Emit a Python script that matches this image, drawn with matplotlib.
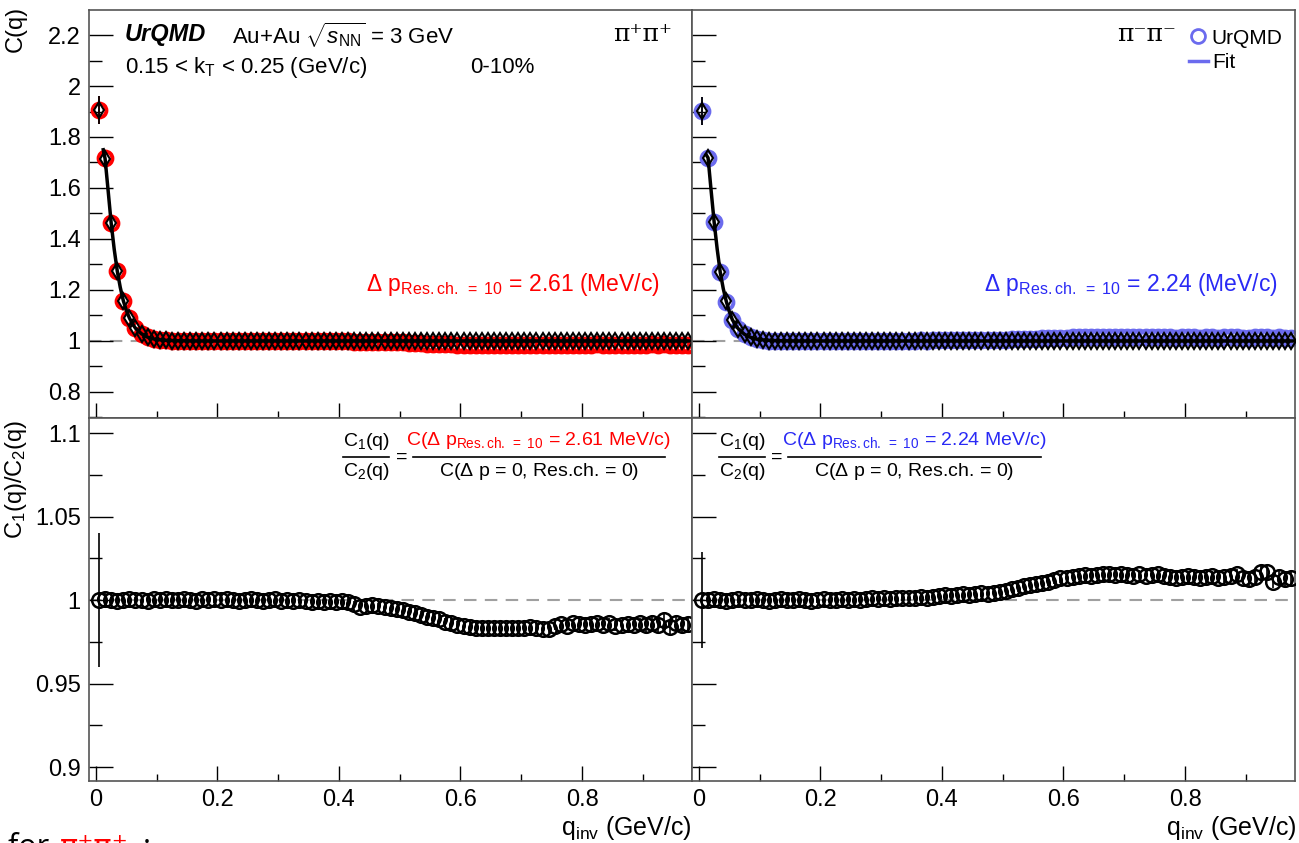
import numpy as np
import matplotlib
matplotlib.use('Agg')
import matplotlib.pyplot as plt
from matplotlib.lines import Line2D
from matplotlib.ticker import MultipleLocator

plt.rcParams['font.family'] = ['Liberation Sans', 'DejaVu Sans']
plt.rcParams['mathtext.fontset'] = 'custom'
plt.rcParams['mathtext.rm'] = 'Liberation Sans'
plt.rcParams['mathtext.it'] = 'Liberation Sans:italic'
plt.rcParams['mathtext.bf'] = 'Liberation Sans:bold'

# q_inv bin centres (GeV/c)
q = np.round(np.arange(0.005, 0.98, 0.01), 3)

# C(q) without momentum resolution (black diamonds)
c2_pp = [1.905, 1.715, 1.463, 1.275, 1.158, 1.09, 1.05, 1.028, 1.015, 1.008, 1.004, 1.002] + [1.001]*4 + [1.0]*82
c2_mm = [1.902, 1.718, 1.466, 1.270, 1.155, 1.083, 1.047, 1.026, 1.014, 1.007, 1.003, 1.001] + [1.0]*86
c2_err = [0.055] + [0.004]*97

# ratio C1/C2
ratio_pp = [1.000, 1.0005, 1.000, 0.9995, 1.000, 1.0005, 1.000, 1.000, 0.9995, 1.0005,
            1.000, 1.0005, 1.000, 1.000, 1.0005, 1.000, 0.9995, 1.0005, 1.000, 1.0005,
            1.000, 1.0005, 1.000, 0.9995, 1.000, 1.0005, 1.000, 0.9995, 1.000, 1.0005,
            0.9995, 1.000, 0.9995, 1.000, 0.9995, 0.999, 0.9995, 0.999, 0.9995, 0.999,
            0.9995, 0.999, 0.9975, 0.996, 0.9965, 0.997, 0.9965, 0.996, 0.995, 0.9945,
            0.994, 0.993, 0.9925, 0.991, 0.990, 0.989, 0.9885, 0.987, 0.9865, 0.985,
            0.9845, 0.984, 0.9835, 0.9835, 0.9835, 0.983, 0.9835, 0.983, 0.9835, 0.9835,
            0.983, 0.984, 0.9835, 0.9825, 0.9825, 0.9845, 0.9855, 0.9845, 0.986, 0.9855,
            0.985, 0.9855, 0.9865, 0.985, 0.986, 0.9845, 0.985, 0.9855, 0.985, 0.986,
            0.985, 0.9865, 0.985, 0.988, 0.984, 0.986, 0.985, 0.9855]
ratio_mm = [1.000, 1.000, 1.0005, 1.000, 0.9995, 1.000, 1.0005, 1.000, 1.000, 1.0005,
            1.000, 0.9995, 1.000, 1.0005, 1.000, 1.000, 1.0005, 1.000, 0.9995, 1.000,
            1.0005, 1.000, 1.000, 1.0005, 1.000, 1.0005, 1.000, 1.0005, 1.001, 1.0005,
            1.001, 1.0005, 1.001, 1.0015, 1.001, 1.0015, 1.002, 1.0015, 1.002, 1.0025,
            1.003, 1.0025, 1.003, 1.0035, 1.003, 1.0035, 1.004, 1.0035, 1.0045, 1.005,
            1.0055, 1.0065, 1.0075, 1.0085, 1.009, 1.0095, 1.0105, 1.011, 1.012, 1.013,
            1.0135, 1.014, 1.0145, 1.015, 1.0145, 1.015, 1.0155, 1.0155, 1.015, 1.0155,
            1.015, 1.0145, 1.0155, 1.0145, 1.015, 1.0155, 1.0145, 1.014, 1.0135, 1.014,
            1.0145, 1.014, 1.0135, 1.014, 1.0145, 1.0135, 1.014, 1.0145, 1.0155, 1.0135,
            1.0125, 1.014, 1.0165, 1.0165, 1.011, 1.014, 1.0125, 1.013]
ratio_err_pp = [0.040, 0.005] + [0.002]*48 + [0.0025]*30 + [0.003]*10 + [0.0045]*8
ratio_err_mm = [0.029, 0.005] + [0.002]*48 + [0.0025]*30 + [0.003]*10 + [0.004]*8

# C(q) with momentum resolution = C2 * ratio
c1_pp = np.array(c2_pp) * np.array(ratio_pp)
c1_mm = np.array(c2_mm) * np.array(ratio_mm)

# fit curves
fit_q = [0.012, 0.015, 0.02, 0.025, 0.03, 0.035, 0.04, 0.045, 0.05, 0.055, 0.06, 0.065, 0.075, 0.085, 0.095, 0.11, 0.13, 0.16, 0.2, 0.98]
fit_pp = [1.75, 1.715, 1.59, 1.463, 1.36, 1.275, 1.21, 1.158, 1.12, 1.09, 1.068, 1.05, 1.028, 1.015, 1.008, 1.003, 1.001, 1.0, 1.0, 1.0]
fit_mm = [1.73, 1.718, 1.59, 1.466, 1.36, 1.270, 1.205, 1.155, 1.115, 1.083, 1.063, 1.047, 1.026, 1.014, 1.007, 1.003, 1.001, 1.0, 1.0, 1.0]

RED = '#ff0000'
BLUE_M = '#6b6bee'
BLUE_T = '#2a2af5'

fig = plt.figure(figsize=(12.99, 8.43), dpi=100)
ax_tl = fig.add_axes([0.0685, 0.5042, 0.4642, 0.4839])
ax_tr = fig.add_axes([0.5327, 0.5042, 0.4642, 0.4839])
ax_bl = fig.add_axes([0.0685, 0.0735, 0.4642, 0.4306])
ax_br = fig.add_axes([0.5327, 0.0735, 0.4642, 0.4306])

for ax, c1, c2, fit, col in [(ax_tl, c1_pp, c2_pp, fit_pp, RED), (ax_tr, c1_mm, c2_mm, fit_mm, BLUE_M)]:
    ax.axhline(1, color='#a0a0a0', lw=1.5, ls=(0, (6, 4)), zorder=0)
    ax.errorbar(q, c1, yerr=c2_err, fmt='o', mfc='none', mec=col, ms=10, mew=2.8,
                ecolor=col, elinewidth=1.2, capsize=0, zorder=2)
    ax.plot(fit_q, fit, color='k', lw=2.5, zorder=3)
    ax.errorbar(q, c2, yerr=c2_err, fmt='d', mfc='none', mec='k', ms=8, mew=1.5,
                ecolor='k', elinewidth=1.3, capsize=0, zorder=4)
    ax.set_ylim(0.698, 2.298)
    ax.yaxis.set_major_locator(MultipleLocator(0.2))
    ax.yaxis.set_minor_locator(MultipleLocator(0.1))

for ax, r, re in [(ax_bl, ratio_pp, ratio_err_pp), (ax_br, ratio_mm, ratio_err_mm)]:
    ax.axhline(1, color='#a0a0a0', lw=1.5, ls=(0, (6, 4)), zorder=0)
    ax.errorbar(q, r, yerr=re, fmt='o', mfc='none', mec='k', ms=10.5, mew=1.8,
                ecolor='k', elinewidth=1.2, capsize=0, zorder=3)
    ax.set_ylim(0.8916, 1.109)
    ax.yaxis.set_major_locator(MultipleLocator(0.05))
    ax.yaxis.set_minor_locator(MultipleLocator(0.025))
    ax.set_yticks([0.9, 0.95, 1.0, 1.05, 1.1])
    ax.set_yticklabels(['0.9', '0.95', '1', '1.05', '1.1'])

ax_tl.set_yticks([0.8, 1.0, 1.2, 1.4, 1.6, 1.8, 2.0, 2.2])
ax_tl.set_yticklabels(['0.8', '1', '1.2', '1.4', '1.6', '1.8', '2', '2.2'])

for ax in [ax_tl, ax_tr, ax_bl, ax_br]:
    ax.set_xlim(-0.0115, 0.981)
    ax.xaxis.set_major_locator(MultipleLocator(0.2))
    ax.xaxis.set_minor_locator(MultipleLocator(0.1))
    for s in ax.spines.values():
        s.set_color('#555555')
        s.set_linewidth(1.2)
    ax.tick_params(which='both', direction='in', top=False, right=False, labelsize=17, pad=6)
    ax.tick_params(axis='y', which='major', length=17, width=1)
    ax.tick_params(axis='y', which='minor', length=9, width=1)
    ax.tick_params(axis='x', which='major', length=11, width=1)
    ax.tick_params(axis='x', which='minor', length=5, width=1)

for ax in [ax_tl, ax_tr]:
    ax.tick_params(labelbottom=False)
for ax in [ax_tr, ax_br]:
    ax.tick_params(labelleft=False)
for ax in [ax_bl, ax_br]:
    ax.set_xticks([0, 0.2, 0.4, 0.6, 0.8])
    ax.set_xticklabels(['0', '0.2', '0.4', '0.6', '0.8'])

# top-left texts
t = ax_tl.transAxes
ax_tl.text(0.0597, 0.939, 'UrQMD', transform=t, fontsize=17, fontweight='bold', fontstyle='italic', va='center')
ax_tl.text(0.237, 0.939, r'Au+Au $\sqrt{s_{\rm NN}}$ = 3 GeV', transform=t, fontsize=16, va='center')
ax_tl.text(0.0597, 0.860, r'0.15 < k$_{\rm T}$ < 0.25 (GeV/c)', transform=t, fontsize=16, va='center')
ax_tl.text(0.632, 0.860, '0-10%', transform=t, fontsize=16, va='center')
ax_tl.text(0.967, 0.939, 'π⁺π⁺', transform=t, fontsize=18, va='center', ha='right', family='DejaVu Serif')
ax_tl.text(0.947, 0.311, r'$\Delta$ p$_{\rm Res.ch.\ =\ 10}$ = 2.61 (MeV/c)', transform=t,
           fontsize=16.5, color=RED, ha='right', va='baseline')

# top-right texts
t = ax_tr.transAxes
ax_tr.text(0.705, 0.939, 'π⁻π⁻', transform=t, fontsize=18, va='center', family='DejaVu Serif')
ax_tr.text(0.972, 0.311, r'$\Delta$ p$_{\rm Res.ch.\ =\ 10}$ = 2.24 (MeV/c)', transform=t,
           fontsize=16.5, color=BLUE_T, ha='right', va='baseline')
handles = [Line2D([], [], ls='none', marker='o', mfc='none', mec=BLUE_M, ms=10, mew=2),
           Line2D([], [], color=BLUE_M, lw=2.5)]
ax_tr.legend(handles, ['UrQMD', 'Fit'], loc='upper left', bbox_to_anchor=(0.800, 0.99), frameon=False,
             fontsize=15, handlelength=0.9, handletextpad=0.2, labelspacing=0.25, borderpad=0.2)

# ratio formula texts
def formula(ax, xc, xl, xr, num, col):
    t = ax.transAxes
    ax.text(xc, 0.935, r'C$_1$(q)', transform=t, fontsize=14, ha='center', va='center')
    ax.text(xc, 0.852, r'C$_2$(q)', transform=t, fontsize=14, ha='center', va='center')
    ax.plot([xc - 0.038, xc + 0.038], [0.893, 0.893], transform=t, color='k', lw=1.2)
    ax.text(xc + 0.058, 0.893, '=', transform=t, fontsize=14, ha='center', va='center')
    ax.text((xl + xr) / 2, 0.925, num, transform=t, fontsize=14, ha='center', va='baseline', color=col)
    ax.plot([xl, xr], [0.893, 0.893], transform=t, color='k', lw=1.2)
    ax.text((xl + xr) / 2, 0.852, r'C($\Delta$ p = 0, Res.ch. = 0)', transform=t, fontsize=14,
            ha='center', va='center')

formula(ax_bl, 0.46, 0.537, 0.955, r'C($\Delta$ p$_{\rm Res.ch.\ =\ 10}$ = 2.61 MeV/c)', RED)
formula(ax_br, 0.083, 0.160, 0.578, r'C($\Delta$ p$_{\rm Res.ch.\ =\ 10}$ = 2.24 MeV/c)', BLUE_T)

# axis titles
fig.text(16 / 1299, 1 - 6 / 843, 'C(q)', rotation=90, ha='center', va='top', fontsize=17)
fig.text(16 / 1299, 1 - 420 / 843, r'C$_1$(q)/C$_2$(q)', rotation=90, ha='center', va='top', fontsize=17)
fig.text(692 / 1299, 1 - 828 / 843, r'q$_{\rm inv}$ (GeV/c)', ha='right', va='center', fontsize=18)
fig.text(1297 / 1299, 1 - 828 / 843, r'q$_{\rm inv}$ (GeV/c)', ha='right', va='center', fontsize=18)

# cut-off caption at the bottom edge (only its top shows, as in the source image)
fig.text(8 / 1299, -0.016, 'for ', fontsize=22, family='Open Sans', va='baseline')
fig.text(60 / 1299, -0.016, 'π⁺π⁺', fontsize=22, family='DejaVu Sans', va='baseline', color=RED)
fig.text(143 / 1299, -0.016, ':', fontsize=22, family='Open Sans', va='baseline')

fig.savefig('out.png', dpi=100)
